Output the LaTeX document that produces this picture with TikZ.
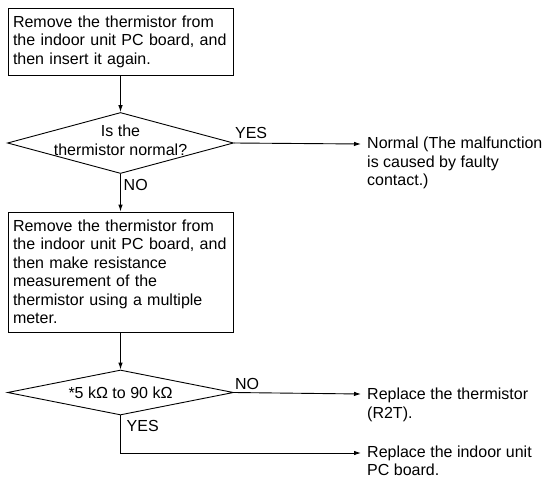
\documentclass[tikz,border=0pt]{standalone}
\usepackage{fontspec}
\setmainfont{Liberation Sans}
\usetikzlibrary{shapes.geometric,arrows.meta}

\tikzset{
  txt/.style={font=\fontsize{16}{18.5}\selectfont},
  stepbox/.style={txt, draw, line width=0.9pt, text width=215pt, inner xsep=5pt, align=left, minimum width=225pt},
  decide/.style={draw, line width=0.9pt, shape=diamond, minimum width=226pt, inner sep=0pt},
  result/.style={txt, align=left, inner sep=0pt, anchor=north west},
  answer/.style={txt, inner sep=0pt},
  flow/.style={line width=0.9pt, -{Latex[length=7pt,width=4.5pt]}},
}

\begin{document}
\begin{tikzpicture}[x=1pt,y=-1pt]
  \useasboundingbox (0,0) rectangle (545,478);

  % checks
  \node[stepbox, minimum height=67pt] (s1) at (120.5,41.5)
    {Remove the thermistor from\\the indoor unit PC board, and\\then insert it again.};
  \node[decide, minimum height=61pt, label={[txt,align=center,yshift=2.5pt]center:Is the\\thermistor normal?}] (d1) at (120.5,143) {};
  \node[stepbox, minimum height=120pt] (s2) at (120.5,272)
    {Remove the thermistor from\\the indoor unit PC board, and\\then make resistance\\measurement of the\\thermistor using a multiple\\meter.};
  \node[decide, minimum height=45pt, label={[txt]center:*5 kΩ to 90 kΩ}] (d2) at (120.5,392.5) {};

  % ends of the arrows
  \coordinate (ok-in) at (361,144);
  \coordinate (r2t-in) at (361,394);
  \coordinate (pcb-in) at (361,453);

  \node[result] (ok) at (367,137) {Normal (The malfunction\\is caused by faulty\\contact.)};
  \node[result] (r2t) at (367,388) {Replace the thermistor\\(R2T).};
  \node[result] (pcb) at (367,445.5) {Replace the indoor unit\\PC board.};

  \node[answer, anchor=south west, xshift=1pt, yshift=4pt] (y1) at (d1.east) {YES};
  \node[answer, anchor=north west, xshift=3pt, yshift=-5pt] (n1) at (d1.south) {NO};
  \node[answer, anchor=south west, xshift=1pt, yshift=3pt] (n2) at (d2.east) {NO};
  \node[answer, anchor=north west, xshift=6pt, yshift=-5pt] (y2) at (d2.south) {YES};

  \draw[flow] (s1) -- (d1);
  \draw[flow] (d1) -- (s2);
  \draw[flow] (s2) -- (d2);
  \draw[flow] (d1.east) -- (ok-in);
  \draw[flow] (d2.east) -- (r2t-in);
  \draw[flow] (d2.south) |- (pcb-in);
\end{tikzpicture}
\end{document}
